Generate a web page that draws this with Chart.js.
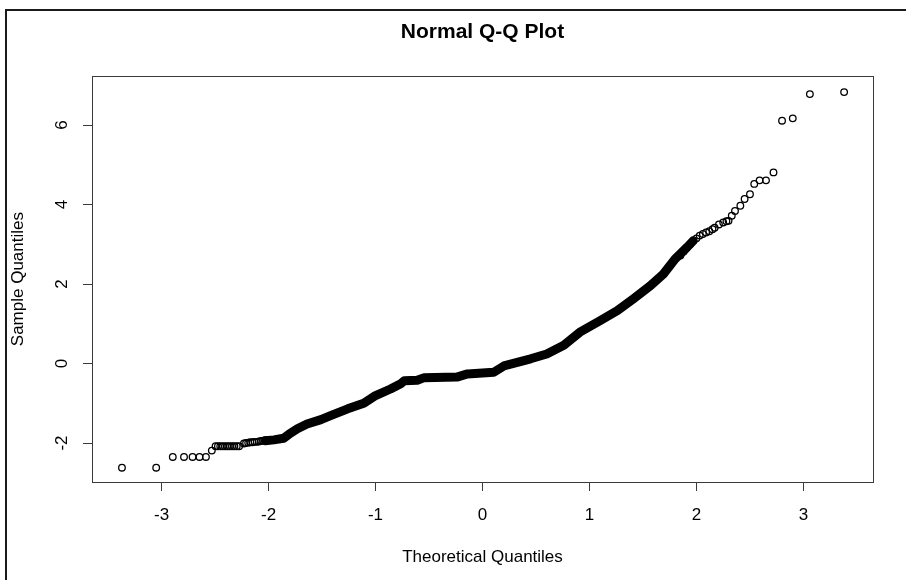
<!DOCTYPE html>
<html>
<head>
<meta charset="utf-8">
<script src="https://cdn.jsdelivr.net/npm/chart.js@4/dist/chart.umd.min.js"></script>
<style>
  html, body { margin:0; padding:0; background:#fff; }
  #wrap { position:relative; width:906px; height:580px; overflow:hidden; }
  #frame { position:absolute; left:5px; top:9px; right:-4px; bottom:-4px; border-left:2px solid #1a1a1a; border-top:2px solid #1a1a1a; pointer-events:none; }
  canvas { position:absolute; left:0; top:0; }
</style>
</head>
<body>
<div id="wrap">
  <canvas id="qq" width="906" height="580"></canvas>
  <div id="frame"></div>
</div>
<script>
// lower tail (theoretical / sample quantiles)
const theoLow = [-3.37, -3.05, -2.895, -2.79, -2.71, -2.645, -2.585, -2.53,
  -2.495, -2.473, -2.451, -2.429, -2.407, -2.385, -2.363, -2.341, -2.319, -2.297, -2.275,
  -2.23, -2.21, -2.19, -2.17, -2.15, -2.13, -2.11, -2.09, -2.07, -2.05, -2.03, -2.01];
const sampleLow = [-2.62, -2.62, -2.35, -2.35, -2.35, -2.35, -2.35, -2.19,
  -2.08, -2.08, -2.08, -2.08, -2.08, -2.08, -2.08, -2.08, -2.08, -2.08, -2.08,
  -2.01, -2.0, -1.99, -1.98, -1.98, -1.97, -1.97, -1.96, -1.95, -1.94, -1.93, -1.93];

// dense middle part, where the circles merge into a solid band
const theoBand = [-2.03, -1.95, -1.86, -1.81, -1.73, -1.64, -1.51, -1.42, -1.26, -1.11, -1.01, -0.86,
  -0.76, -0.73, -0.61, -0.55, -0.24, -0.14, 0.105, 0.2, 0.45, 0.6, 0.76, 0.91, 1.10, 1.26,
  1.41, 1.57, 1.69, 1.80, 1.91, 1.97];
const sampleBand = [-1.94, -1.92, -1.88, -1.78, -1.64, -1.52, -1.41, -1.31, -1.14, -1.00, -0.82, -0.64,
  -0.50, -0.43, -0.42, -0.36, -0.34, -0.26, -0.22, -0.06, 0.12, 0.24, 0.46, 0.79, 1.08, 1.33,
  1.63, 1.96, 2.25, 2.63, 2.92, 3.09];

// upper tail
const theoHigh = [1.85, 1.88, 1.91, 1.94, 1.97, 2.00, 2.03, 2.06, 2.09, 2.12, 2.15, 2.17, 2.21, 2.25, 2.28,
  2.30, 2.33, 2.36, 2.41, 2.45, 2.50, 2.54, 2.59, 2.65, 2.72, 2.80, 2.90, 3.06, 3.38];
const sampleHigh = [2.72, 2.82, 2.92, 3.00, 3.09, 3.15, 3.22, 3.26, 3.30, 3.33, 3.38, 3.42, 3.50, 3.55, 3.58,
  3.59, 3.72, 3.84, 3.97, 4.14, 4.26, 4.52, 4.61, 4.61, 4.81, 6.11, 6.17, 6.78, 6.83];

const xTicks = [-3, -2, -1, 0, 1, 2, 3];
const yTicks = [-2, 0, 2, 4, 6];

const pts = (xs, ys) => xs.map((x, i) => ({ x, y: ys[i] }));
const ink = "#000";
const axisCol = "#3a3a3a";

Chart.defaults.font.family = '"Liberation Sans", Arial, sans-serif';
Chart.defaults.color = ink;

const boxPlugin = {
  id: "box",
  afterDatasetsDraw(chart){
    const { ctx, chartArea: a } = chart;
    ctx.save();
    ctx.strokeStyle = axisCol;
    ctx.lineWidth = 1;
    ctx.strokeRect(Math.round(a.left) + 0.5, Math.round(a.top) + 0.5, Math.round(a.right - a.left), Math.round(a.bottom - a.top));
    ctx.restore();
  }
};

new Chart(document.getElementById("qq"), {
  type: "scatter",
  data: {
    datasets: [
      { data: pts(theoBand, sampleBand), showLine: true, borderColor: ink, borderWidth: 9,
        borderCapStyle: "round", borderJoinStyle: "round", pointRadius: 0, tension: 0 },
      { data: pts(theoLow, sampleLow).concat(pts(theoHigh, sampleHigh)), showLine: false,
        pointRadius: 3.3, pointBorderWidth: 1.3, borderColor: ink, backgroundColor: "rgba(0,0,0,0)" }
    ]
  },
  options: {
    responsive: false,
    animation: false,
    layout: { padding: { left: 0, right: 33, top: 0, bottom: 0 } },
    plugins: {
      legend: { display: false },
      tooltip: { enabled: false },
      title: { display: true, text: "Normal Q-Q Plot", fullSize: false, color: ink,
        font: { size: 21, weight: "bold", lineHeight: 1.2 }, padding: { top: 20, bottom: 31 } }
    },
    scales: {
      x: {
        type: "linear", min: -3.65, max: 3.65,
        afterBuildTicks: s => { s.ticks = xTicks.map(v => ({ value: v })); },
        afterFit: s => { s.height = 98; },
        ticks: { font: { size: 17 }, padding: 14, color: ink, maxRotation: 0 },
        grid: { drawOnChartArea: false, drawTicks: true, tickLength: 9, color: axisCol },
        border: { display: false },
        title: { display: true, text: "Theoretical Quantiles", font: { size: 17 }, padding: { top: 0, bottom: 12 }, color: ink }
      },
      y: {
        type: "linear", min: -2.98, max: 7.23,
        afterBuildTicks: s => { s.ticks = yTicks.map(v => ({ value: v })); },
        afterFit: s => { s.width = 92; },
        ticks: { font: { size: 17 }, padding: 13, color: ink, minRotation: 90, maxRotation: 90, crossAlign: "center" },
        grid: { drawOnChartArea: false, drawTicks: true, tickLength: 9, color: axisCol },
        border: { display: false },
        title: { display: true, text: "Sample Quantiles", font: { size: 17 }, padding: { top: 8, bottom: 0 }, color: ink }
      }
    }
  },
  plugins: [boxPlugin]
});
</script>
</body>
</html>
